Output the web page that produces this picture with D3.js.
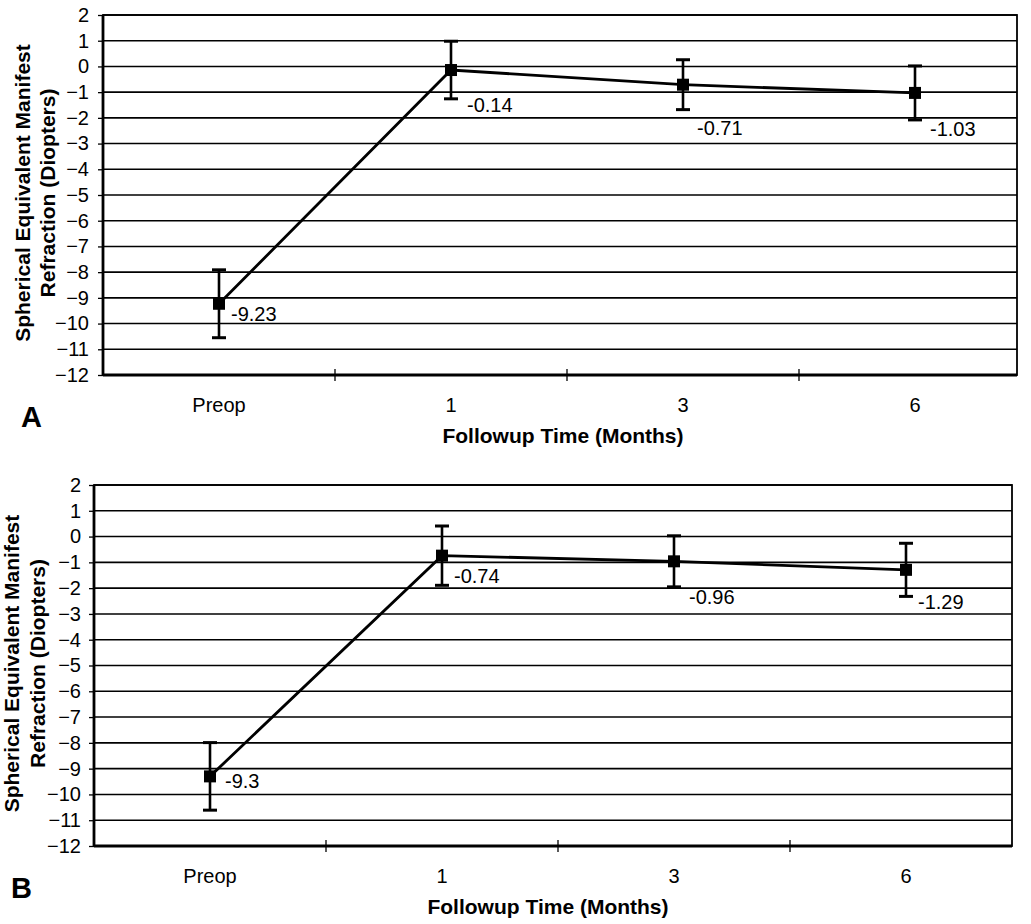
<!DOCTYPE html>
<html>
<head>
<meta charset="utf-8">
<script src="https://cdn.jsdelivr.net/npm/d3@7"></script>
<style>
  body { margin: 0; background: #fff; }
  svg { display: block; font-family: "Liberation Sans", Arial, sans-serif; }
</style>
</head>
<body>
<div id="chart"></div>
<script>
// categories on the x axis
const categories = ["Preop", "1", "3", "6"];
const yTicks = d3.range(2, -13, -1);

// panel A: mean spherical equivalent and error bar half-width
const meanA = [-9.23, -0.14, -0.71, -1.03];
const errA = [1.32, 1.12, 0.97, 1.05];
const labelsA = ["-9.23", "-0.14", "-0.71", "-1.03"];

// panel B
const meanB = [-9.3, -0.74, -0.96, -1.29];
const errB = [1.31, 1.15, 0.99, 1.03];
const labelsB = ["-9.3", "-0.74", "-0.96", "-1.29"];

const svg = d3.select("#chart").append("svg")
  .attr("width", 1031)
  .attr("height", 924);

function drawPanel(cfg) {
  let g = svg.append("g");

  // categories are spaced wider than the drawn frame, like the original
  let x = d3.scaleBand().domain(categories).range([cfg.left, cfg.left + 4 * cfg.band]);
  let y = d3.scaleLinear().domain([-12, 2]).range([cfg.bottom, cfg.top]);

  // gridlines
  g.selectAll(".grid")
    .data(yTicks)
    .join("line")
    .attr("x1", cfg.left).attr("x2", cfg.right)
    .attr("y1", d => y(d)).attr("y2", d => y(d))
    .attr("stroke", "#000")
    .attr("stroke-width", 1.6);

  // plot frame
  g.append("rect")
    .attr("x", cfg.left).attr("y", cfg.top)
    .attr("width", cfg.right - cfg.left)
    .attr("height", cfg.bottom - cfg.top)
    .attr("fill", "none")
    .attr("stroke", "#000")
    .attr("stroke-width", 1.8);
  g.append("line")
    .attr("x1", cfg.left).attr("x2", cfg.left)
    .attr("y1", cfg.top).attr("y2", cfg.bottom)
    .attr("stroke", "#000").attr("stroke-width", 2.8);
  g.append("line")
    .attr("x1", cfg.left).attr("x2", cfg.right)
    .attr("y1", cfg.bottom).attr("y2", cfg.bottom)
    .attr("stroke", "#000").attr("stroke-width", 3.2);

  // y axis
  let yAxis = d3.axisLeft(y).tickValues(yTicks).tickSize(5).tickSizeOuter(0);
  let ya = g.append("g")
    .attr("transform", `translate(${cfg.left},0)`)
    .call(yAxis);
  ya.select(".domain").remove();
  ya.selectAll("line").attr("stroke-width", 1.3);
  ya.selectAll("text")
    .attr("x", cfg.tickLabelX)
    .style("font-size", "20px")
    .style("font-family", "'Liberation Sans', Arial, sans-serif")
    .attr("fill", "#000");

  // x ticks at category boundaries
  let bounds = categories.slice(1).map(c => x(c));
  g.selectAll(".xtick")
    .data(bounds)
    .join("line")
    .attr("x1", d => d).attr("x2", d => d)
    .attr("y1", cfg.bottom - 6).attr("y2", cfg.bottom + 6)
    .attr("stroke", "#000").attr("stroke-width", 1.3);

  g.selectAll(".xlab")
    .data(categories)
    .join("text")
    .attr("x", d => x(d) + x.bandwidth() / 2)
    .attr("y", cfg.bottom + 37)
    .attr("text-anchor", "middle")
    .style("font-size", "20px")
    .text(d => d);

  g.append("text")
    .attr("x", cfg.xTitleX)
    .attr("y", cfg.bottom + 68)
    .attr("text-anchor", "middle")
    .style("font-size", "21px")
    .style("font-weight", "bold")
    .text("Followup Time (Months)");

  // y title (two lines)
  let cy = (cfg.top + cfg.bottom) / 2 - 2;
  ["Spherical Equivalent Manifest", "Refraction (Diopters)"].forEach((t, i) => {
    g.append("text")
      .attr("transform", `translate(${cfg.titleX[i]},${cy}) rotate(-90)`)
      .attr("text-anchor", "middle")
      .style("font-size", "21px")
      .style("font-weight", "bold")
      .text(t);
  });

  // panel letter
  g.append("text")
    .attr("x", cfg.letterX)
    .attr("y", cfg.bottom + 52)
    .style("font-size", "29px")
    .style("font-weight", "bold")
    .text(cfg.letter);

  let pts = categories.map((c, i) => ({
    cx: x(c) + x.bandwidth() / 2,
    m: cfg.mean[i], e: cfg.err[i], label: cfg.labels[i], off: cfg.offsets[i]
  }));

  // connecting line
  g.append("path")
    .datum(pts)
    .attr("d", d3.line().x(d => d.cx).y(d => y(d.m)))
    .attr("fill", "none")
    .attr("stroke", "#000")
    .attr("stroke-width", 2.8);

  // error bars
  let eb = g.selectAll(".eb").data(pts).join("g");
  eb.append("line")
    .attr("x1", d => d.cx).attr("x2", d => d.cx)
    .attr("y1", d => y(d.m + d.e)).attr("y2", d => y(d.m - d.e))
    .attr("stroke", "#000").attr("stroke-width", 2.6);
  [1, -1].forEach(s => {
    eb.append("line")
      .attr("x1", d => d.cx - 7).attr("x2", d => d.cx + 7)
      .attr("y1", d => y(d.m + s * d.e)).attr("y2", d => y(d.m + s * d.e))
      .attr("stroke", "#000").attr("stroke-width", 3);
  });

  // markers
  g.selectAll(".mk").data(pts).join("rect")
    .attr("x", d => d.cx - 6).attr("y", d => y(d.m) - 6)
    .attr("width", 12).attr("height", 12)
    .attr("fill", "#000");

  // data labels
  g.selectAll(".dl").data(pts).join("text")
    .attr("x", d => d.cx + d.off[0])
    .attr("y", d => y(d.m) + d.off[1])
    .style("font-size", "20px")
    .text(d => d.label);
}

drawPanel({
  left: 103, right: 1017, top: 15, bottom: 375, band: 232,
  mean: meanA, err: errA, labels: labelsA,
  offsets: [[12, 17], [16, 42], [14, 50], [15, 43]],
  tickLabelX: -14, titleX: [30, 55], xTitleX: 563, letterX: 21, letter: "A"
});

drawPanel({
  left: 94, right: 1012, top: 485, bottom: 846, band: 232,
  mean: meanB, err: errB, labels: labelsB,
  offsets: [[15, 12], [12, 27], [15, 43], [12, 39]],
  tickLabelX: -13, titleX: [19, 45], xTitleX: 548, letterX: 11, letter: "B"
});
</script>
</body>
</html>
